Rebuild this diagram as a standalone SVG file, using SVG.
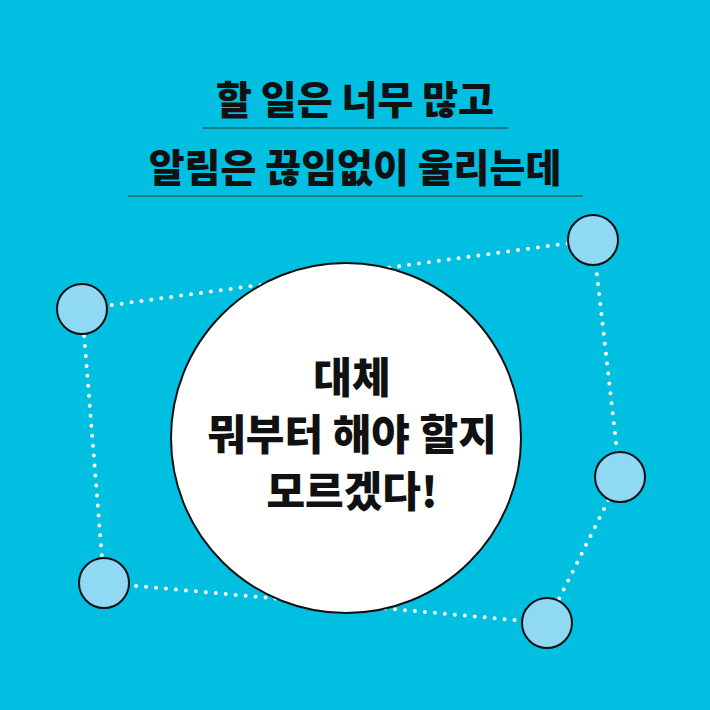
<svg xmlns="http://www.w3.org/2000/svg" width="710" height="710" viewBox="0 0 710 710">
<style>
.t{font-family:"Noto Sans CJK KR",sans-serif;font-weight:900;fill:#111;text-anchor:middle}
.d{stroke:#fff;stroke-width:4;stroke-linecap:round;stroke-dasharray:0 10;fill:none}
.n{fill:#8fd9f5;stroke:#111;stroke-width:2}
</style>
<rect width="710" height="710" fill="#00bfe0"/>
<text class="t" x="355" y="114" font-size="39">할 일은 너무 많고</text>
<line x1="203" y1="128" x2="508" y2="128" stroke="#333" stroke-width="1"/>
<text class="t" x="355" y="182" font-size="39">알림은 끊임없이 울리는데</text>
<line x1="128" y1="196" x2="583" y2="196" stroke="#333" stroke-width="1"/>
<g id="connectors">
<path class="d" d="M82 309 L593 240 L620 477 L547 623 L104 583 Z"/>
</g>
<g id="center">
<circle cx="346" cy="438" r="175" fill="#fff" stroke="#111" stroke-width="2"/>
<text class="t" x="352" y="393" font-size="42">대체</text>
<text class="t" x="352" y="450" font-size="42">뭐부터 해야 할지</text>
<text class="t" x="352" y="507" font-size="42">모르겠다!</text>
</g>
<g id="n1"><circle class="n" cx="82" cy="309" r="25"/></g>
<g id="n2"><circle class="n" cx="593" cy="240" r="25"/></g>
<g id="n3"><circle class="n" cx="620" cy="477" r="25"/></g>
<g id="n4"><circle class="n" cx="547" cy="623" r="25"/></g>
<g id="n5"><circle class="n" cx="104" cy="583" r="25"/></g>
</svg>
